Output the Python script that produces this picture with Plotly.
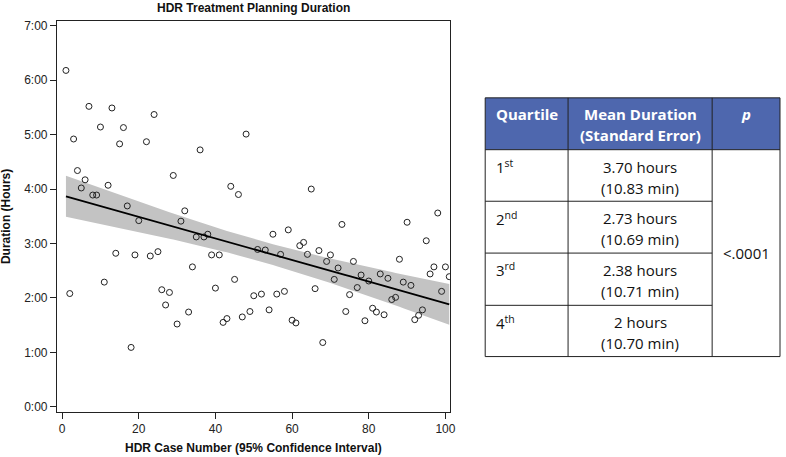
import numpy as np
import plotly.graph_objects as go

# case number and planning duration (hours)
CASE = [1, 2, 3, 4, 5, 6, 7, 8, 9, 10, 11, 12, 13, 14, 15, 16, 17, 18, 19, 20,
        22, 23, 24, 25, 26, 27, 28, 29, 30, 31, 32, 33, 34, 35, 36, 37, 38, 39, 40,
        41, 42, 43, 44, 45, 46, 47, 48, 49, 50, 51, 52, 53, 54, 55, 56, 57, 58, 59, 60,
        61, 62, 63, 64, 65, 66, 67, 68, 69, 70, 71, 72, 73, 74, 75, 76, 77, 78, 79, 80,
        81, 82, 83, 84, 85, 86, 87, 88, 89, 90, 91, 92, 93, 94, 95, 96, 97, 98, 99, 100, 101]
HOURS = [6.18, 2.08, 4.92, 4.34, 4.02, 4.17, 5.52, 3.89, 3.89, 5.14, 2.29, 4.07, 5.49, 2.82,
         4.83, 5.13, 3.69, 1.09, 2.79, 3.42,
         4.87, 2.77, 5.37, 2.85, 2.15, 1.87, 2.10, 4.25, 1.52, 3.41, 3.60, 1.74, 2.57, 3.12,
         4.72, 3.12, 3.17, 2.79, 2.18,
         2.79, 1.55, 1.62, 4.05, 2.34, 3.90, 1.65, 5.01, 1.75, 2.04, 2.89, 2.07, 2.88, 1.78,
         3.17, 2.07, 2.80, 2.12, 3.25, 1.59,
         1.54, 2.96, 3.02, 2.80, 4.00, 2.17, 2.87, 1.18, 2.67, 2.79, 2.34, 2.55, 3.35, 1.75,
         2.06, 2.67, 2.19, 2.42, 1.58, 2.31,
         1.81, 1.74, 2.44, 1.69, 2.36, 1.97, 2.01, 2.71, 2.29, 3.39, 2.23, 1.60, 1.68, 1.78,
         3.05, 2.44, 2.57, 3.56, 2.12, 2.57, 2.39]

Y_TICKS = [0, 1, 2, 3, 4, 5, 6, 7]
Y_TICKTEXT = ["0:00", "1:00", "2:00", "3:00", "4:00", "5:00", "6:00", "7:00"]
X_TICKS = [0, 20, 40, 60, 80, 100]

# table contents
QUARTILE = ["1<sup>st</sup>", "2<sup>nd</sup>", "3<sup>rd</sup>", "4<sup>th</sup>"]
MEAN = ["3.70 hours", "2.73 hours", "2.38 hours", "2 hours"]
SE = ["(10.83 min)", "(10.69 min)", "(10.71 min)", "(10.70 min)"]
P_VALUE = "<.0001"

W, H = 786, 457
T_CRIT = 1.9845  # t(0.975, df=98)


def px(x):
    return x / W


def py(y):
    return 1 - y / H


# OLS fit with 95% confidence band for the mean
x = np.array(CASE, dtype=float)
y = np.array(HOURS, dtype=float)
b1, b0 = np.polyfit(x, y, 1)
n = len(x)
s = np.sqrt(np.sum((y - (b0 + b1 * x)) ** 2) / (n - 2))
sxx = np.sum((x - x.mean()) ** 2)
yfit = b0 + b1 * x
half = T_CRIT * s * np.sqrt(1 / n + (x - x.mean()) ** 2 / sxx)

fig = go.Figure()
fig.add_trace(go.Scatter(x=x, y=yfit - half, mode="lines", line=dict(width=0),
                         hoverinfo="skip", showlegend=False))
fig.add_trace(go.Scatter(x=x, y=yfit + half, mode="lines", line=dict(width=0),
                         fill="tonexty", fillcolor="#c3c3c3",
                         hoverinfo="skip", showlegend=False))
fig.add_trace(go.Scatter(x=x, y=y, mode="markers",
                         marker=dict(symbol="circle-open", size=6, color="#222",
                                     line=dict(width=1)),
                         showlegend=False))
fig.add_trace(go.Scatter(x=x, y=yfit, mode="lines",
                         line=dict(color="black", width=1.8), showlegend=False))

axfont = dict(family="Liberation Sans, Arial, sans-serif", size=12, color="#222")
fig.update_xaxes(domain=[px(57.3), px(453.3)], range=[-1.35, 101.3],
                 tickvals=X_TICKS, ticks="outside", ticklen=6, tickcolor="#222",
                 showline=True, linecolor="#222", linewidth=1, mirror=True,
                 showgrid=False, zeroline=False, tickfont=axfont)
fig.update_yaxes(domain=[py(413.3), py(19.3)], range=[-0.091, 7.086],
                 tickvals=Y_TICKS, ticktext=Y_TICKTEXT, ticks="outside", ticklen=6,
                 tickcolor="#222", showline=True, linecolor="#222", linewidth=1,
                 mirror=True, showgrid=False, zeroline=False, tickfont=axfont)

bold = dict(family="Liberation Sans, Arial, sans-serif", size=12, color="#111")
ann = [
    dict(text="<b>HDR Treatment Planning Duration</b>", x=px(255.3), y=py(6),
         font=bold),
    dict(text="<b>HDR Case Number (95% Confidence Interval)</b>", x=px(255.3),
         y=py(450), font=bold),
    dict(text="<b>Duration (Hours)</b>", x=px(6), y=py(216), textangle=-90,
         font=bold),
]

# table geometry (pixels)
tx0, tx1, tx2, tx3 = 488.3, 571.7, 716.7, 785
ty = [96.7, 149, 201, 253.3, 306, 357.7]
tfont = dict(family="Open Sans, sans-serif", size=15, color="#111")
hfont = dict(family="Open Sans, sans-serif", size=15, color="white")

shapes = [dict(type="rect", xref="paper", yref="paper", x0=px(tx0), x1=px(tx3),
               y0=py(ty[0]), y1=py(ty[1]), fillcolor="#4e67ae",
               line=dict(width=0), layer="below")]
line = dict(color="#222", width=1)
shapes.append(dict(type="rect", xref="paper", yref="paper", x0=px(tx0), x1=px(tx3),
                   y0=py(ty[0]), y1=py(ty[-1]), line=line))
for xv in (tx1, tx2):
    shapes.append(dict(type="line", xref="paper", yref="paper", x0=px(xv), x1=px(xv),
                       y0=py(ty[0]), y1=py(ty[-1]), line=line))
shapes.append(dict(type="line", xref="paper", yref="paper", x0=px(tx0), x1=px(tx3),
                   y0=py(ty[1]), y1=py(ty[1]), line=line))
for yv in ty[2:5]:
    shapes.append(dict(type="line", xref="paper", yref="paper", x0=px(tx0), x1=px(tx2),
                       y0=py(yv), y1=py(yv), line=line))

ann += [
    dict(text="<b>Quartile</b>", x=px((tx0 + tx1) / 2), y=py(112.7), font=hfont),
    dict(text="<b>Mean Duration</b>", x=px((tx1 + tx2) / 2), y=py(112.7), font=hfont),
    dict(text="<b>(Standard Error)</b>", x=px((tx1 + tx2) / 2), y=py(134.3), font=hfont),
    dict(text="<b><i>p</i></b>", x=px((tx2 + tx3) / 2), y=py(112.7), font=hfont),
    dict(text=P_VALUE, x=px((tx2 + tx3) / 2), y=py((ty[1] + ty[-1]) / 2), font=tfont),
]
for i, (q, m, e) in enumerate(zip(QUARTILE, MEAN, SE)):
    top = ty[i + 1]
    ann.append(dict(text=q, x=px(497), y=py(top + 17), xanchor="left", font=tfont))
    ann.append(dict(text=m, x=px((tx1 + tx2) / 2), y=py(top + 17), font=tfont))
    ann.append(dict(text=e, x=px((tx1 + tx2) / 2), y=py(top + 38.3), font=tfont))

for a in ann:
    a.setdefault("xref", "paper")
    a.setdefault("yref", "paper")
    a.setdefault("showarrow", False)
    a.setdefault("xanchor", "center")
    a.setdefault("yanchor", "middle")

fig.update_layout(width=W, height=H, margin=dict(l=0, r=0, t=0, b=0),
                  plot_bgcolor="white", paper_bgcolor="white",
                  annotations=ann, shapes=shapes, showlegend=False)
# drop the browser's default 8px body margin so the figure sits at (0, 0)
fig.write_html("out.html", config={"displayModeBar": False},
               post_script="document.body.style.margin='0';document.body.style.overflow='hidden';")
